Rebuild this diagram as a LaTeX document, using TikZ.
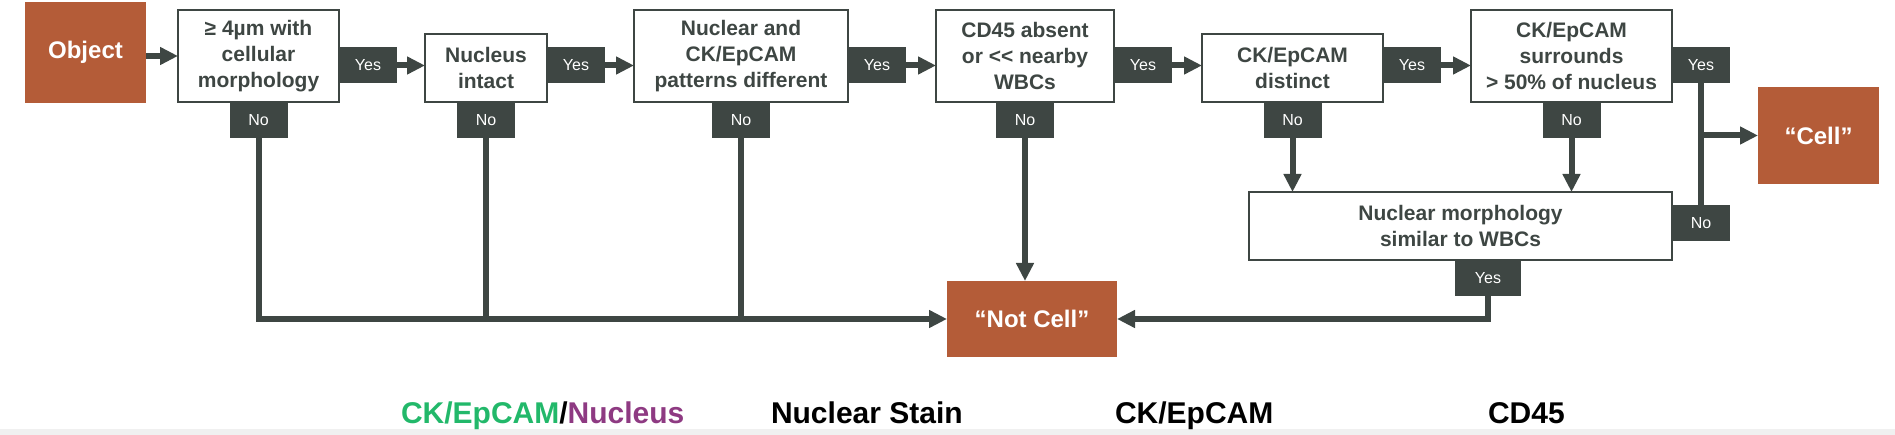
\documentclass[tikz,border=0pt]{standalone}
\usepackage{fontspec}
\setmainfont{Liberation Sans}
\usetikzlibrary{arrows.meta,positioning}
\definecolor{slate}{RGB}{62,70,67}
\definecolor{rust}{RGB}{180,92,56}
\definecolor{ckgreen}{RGB}{34,184,106}
\definecolor{nucpurple}{RGB}{142,58,130}
\definecolor{bandgray}{RGB}{240,240,240}

\begin{document}
\begin{tikzpicture}[
  x=1pt,y=-1pt,
  every node/.style={inner sep=0pt,outer sep=0pt},
  box/.style={draw=slate,line width=2.5pt,fill=white,align=center,text=slate,
              font=\bfseries\fontsize{21}{26}\selectfont},
  tag/.style={fill=slate,text=white,minimum width=58pt,minimum height=36pt,
              font=\fontsize{16}{18}\selectfont},
  term/.style={fill=rust,text=white,font=\bfseries\fontsize{24}{28}\selectfont},
  legendtxt/.style={anchor=base west,font=\bfseries\fontsize{30}{34}\selectfont},
  ln/.style={draw=slate,line width=6pt},
  arr/.style={ln,-{Triangle[length=18pt,width=17pt]}}
]
\useasboundingbox (0,0) rectangle (1895,435);
\fill[bandgray] (0,429) rectangle (1895,435);

% first row
\node[term,minimum width=121pt,minimum height=101pt] (obj) at (85.5,52.5) {Object};
\node[box,minimum width=161pt,minimum height=92pt] (b1) at (258.5,56)
 {≥ 4µm with\\cellular\\morphology};
\node[box,minimum width=122pt,minimum height=68pt] (b2) at (486,68)
 {Nucleus\\intact};
\node[box,minimum width=214pt,minimum height=92pt] (b3) at (741,56)
 {Nuclear and\\CK/EpCAM\\patterns different};
\node[box,minimum width=178pt,minimum height=92pt] (b4) at (1025,56)
 {CD45 absent\\or <\kern0pt< nearby\\WBCs};
\node[box,minimum width=181pt,minimum height=68pt] (b5) at (1292.5,68)
 {CK/EpCAM\\distinct};
\node[box,minimum width=201pt,minimum height=92pt] (b6) at (1571.5,56)
 {CK/EpCAM\\surrounds\\> 50\% of nucleus};

% second row and end points
\node[box,minimum width=423pt,minimum height=68pt] (mo) at (1460.5,226)
 {Nuclear morphology\\similar to WBCs};
\node[term,minimum width=121pt,minimum height=97pt] (cell) at (1818.5,135.5) {“Cell”};
\node[term,minimum width=170pt,minimum height=76pt] (nc) at (1032,319) {“Not Cell”};

% yes / no tags
\coordinate (yesrow) at (0,65.5);
\foreach \b in {1,...,6} {
  \node[tag,anchor=west] (y\b) at (b\b.east |- yesrow) {Yes};
  \node[tag,below=0pt of b\b] (n\b) {No};
}
\node[tag,minimum width=66pt,below=0pt of mo.south,xshift=27.5pt] (ym) {Yes};
\node[tag,right=0pt of mo,yshift=2.5pt] (n7) {No};

\draw[arr] (obj.east |- b1.west) -- (b1.west);
\foreach \a/\b in {1/2,2/3,3/4,4/5,5/6}
  \draw[arr] (y\a.east) -- (y\a.east -| b\b.west);

\draw[arr] (n1) |- (nc);
\foreach \b in {2,3}
  \draw[ln] (n\b) -- (n\b |- nc.west);
\draw[arr] (n4) -- (n4 |- nc.north);
\draw[arr] (ym) |- (nc);
\foreach \b in {5,6}
  \draw[arr] (n\b) -- (n\b |- mo.north);
\draw[ln] (y6) -- (n7);
\draw[arr] (y6 |- cell.west) -- (cell.west);

% legend
\node[legendtxt] (lg1) at (401,423)
 {\textcolor{ckgreen}{CK/EpCAM}/\textcolor{nucpurple}{Nucleus}};
\node[legendtxt] (lg2) at (771,423) {Nuclear Stain};
\node[legendtxt] (lg3) at (1115,423) {CK/EpCAM};
\node[legendtxt] (lg4) at (1488,423) {CD45};
\end{tikzpicture}
\end{document}
